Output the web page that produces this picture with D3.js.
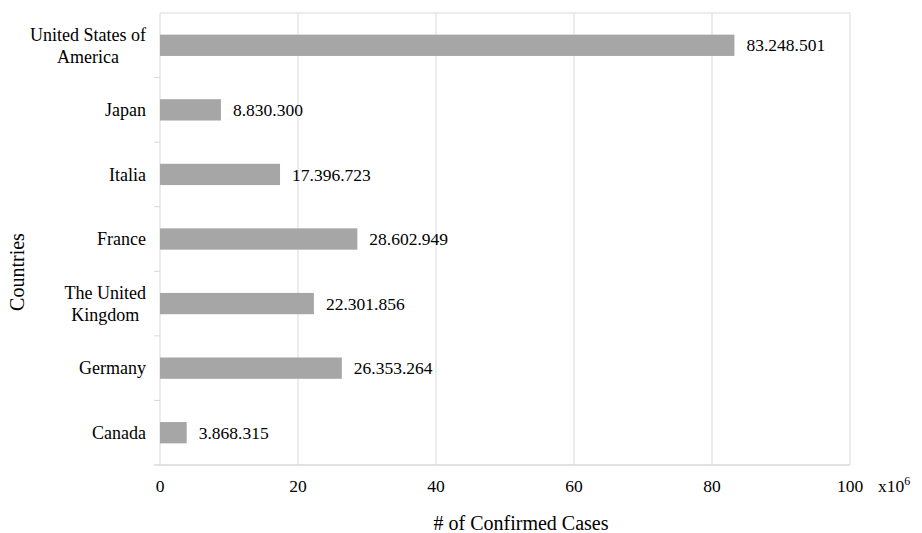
<!DOCTYPE html>
<html>
<head>
<meta charset="utf-8">
<script src="https://cdn.jsdelivr.net/npm/d3@7"></script>
<style>
  body { margin: 0; background: #fff; }
</style>
</head>
<body>
<div id="chart"></div>
<script>
// data (top to bottom)
const countries = ["United States of America", "Japan", "Italia", "France", "The United Kingdom", "Germany", "Canada"];
const countryLines = [["United States of", "America"], ["Japan"], ["Italia"], ["France"], ["The United", "Kingdom"], ["Germany"], ["Canada"]];
const cases = [83248501, 8830300, 17396723, 28602949, 22301856, 26353264, 3868315];
const xTicks = [0, 20, 40, 60, 80, 100];

const W = 922, H = 533;
const margin = {top: 13, right: 72, bottom: 68, left: 160};
const width = W - margin.left - margin.right,
      height = H - margin.top - margin.bottom;
const gridColor = "#d9d9d9";
const serif = "'Liberation Serif', 'Times New Roman', Tinos, 'DejaVu Serif', serif";

const svg = d3.select("#chart").append("svg")
    .attr("width", W)
    .attr("height", H)
    .style("font-family", serif);
const g = svg.append("g")
    .attr("transform", "translate(" + margin.left + "," + margin.top + ")");

// scales
const x = d3.scaleLinear().domain([0, 100]).range([0, width]);
const y = d3.scaleBand().domain(countries).range([0, height]).padding(0);
const barH = y.bandwidth() * 0.33;

// vertical gridlines
g.selectAll("line.grid")
  .data(xTicks.slice(1))
  .enter().append("line")
    .attr("x1", d => x(d)).attr("x2", d => x(d))
    .attr("y1", 0).attr("y2", height)
    .attr("stroke", gridColor).attr("stroke-width", 1);

// top border
g.append("line")
  .attr("x1", 0).attr("x2", width).attr("y1", 0).attr("y2", 0)
  .attr("stroke", gridColor);

// left axis with boundary ticks
g.append("line")
  .attr("x1", 0).attr("x2", 0).attr("y1", 0).attr("y2", height)
  .attr("stroke", gridColor);
g.selectAll("line.ytick")
  .data(countries.slice(1))
  .enter().append("line")
    .attr("x1", -6).attr("x2", 0)
    .attr("y1", d => y(d)).attr("y2", d => y(d))
    .attr("stroke", gridColor);

// bottom axis
g.append("line")
  .attr("x1", -6).attr("x2", width).attr("y1", height).attr("y2", height)
  .attr("stroke", gridColor).attr("stroke-width", 1.5);

// bars
g.selectAll("rect.bar")
  .data(cases)
  .enter().append("rect")
    .attr("x", x(0))
    .attr("y", (d, i) => y(countries[i]) + y.bandwidth() / 2 - barH / 2)
    .attr("width", d => x(d / 1e6) - x(0))
    .attr("height", barH)
    .attr("fill", "#a6a6a6");

// value labels
const fmt = d => d3.format(",")(d).replace(/,/g, ".");
g.selectAll("text.val")
  .data(cases)
  .enter().append("text")
    .attr("x", d => x(d / 1e6) + 12)
    .attr("y", (d, i) => y(countries[i]) + y.bandwidth() / 2)
    .attr("dy", "0.35em")
    .attr("fill", "#000")
    .style("font-size", "17.5px")
    .text(fmt);

// category labels, multi-line ones centred within a right-aligned block
countryLines.forEach(function(lines, i) {
  const cy = y(countries[i]) + y.bandwidth() / 2;
  const t = g.append("text")
    .attr("fill", "#000")
    .style("font-size", "18px")
    .attr("text-anchor", lines.length > 1 ? "middle" : "end");
  lines.forEach(function(line, j) {
    t.append("tspan")
      .attr("x", 0)
      .attr("y", cy + (j - (lines.length - 1) / 2) * 22)
      .attr("dy", "0.35em")
      .text(line);
  });
  if (lines.length > 1) {
    let w = 0;
    t.selectAll("tspan").each(function() { w = Math.max(w, this.getComputedTextLength()); });
    t.selectAll("tspan").attr("x", -14 - w / 2);
  } else {
    t.selectAll("tspan").attr("x", -14);
  }
});

// x tick labels
g.selectAll("text.xtick")
  .data(xTicks)
  .enter().append("text")
    .attr("x", d => x(d))
    .attr("y", height + 27)
    .attr("text-anchor", "middle")
    .attr("fill", "#000")
    .style("font-size", "17.5px")
    .text(d => d);

// x10^6
const mult = g.append("text")
  .attr("x", width + 28)
  .attr("y", height + 27)
  .attr("fill", "#000")
  .style("font-size", "17.5px");
mult.append("tspan").text("x10");
mult.append("tspan").attr("dy", -7).style("font-size", "12px").text("6");

// axis titles
g.append("text")
  .attr("x", width / 2 + 16)
  .attr("y", height + 65)
  .attr("text-anchor", "middle")
  .attr("fill", "#000")
  .style("font-size", "20px")
  .text("# of Confirmed Cases");

g.append("text")
  .attr("transform", "translate(" + (-136) + "," + (height / 2 + 33) + ") rotate(-90)")
  .attr("text-anchor", "middle")
  .attr("fill", "#000")
  .style("font-size", "20px")
  .text("Countries");
</script>
</body>
</html>
